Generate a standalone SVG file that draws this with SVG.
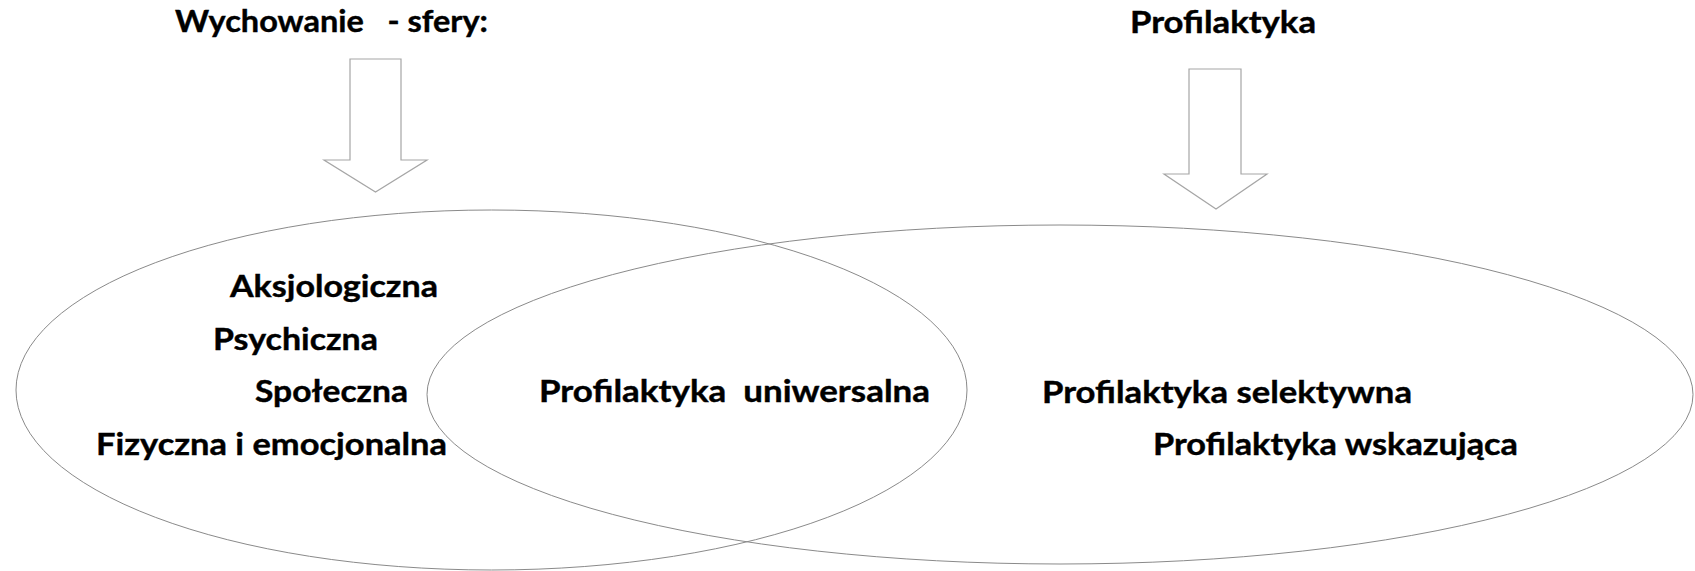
<svg xmlns="http://www.w3.org/2000/svg" width="1695" height="571" viewBox="0 0 1695 571">
<style>
.bg{fill:#ffffff}
.arrow{fill:#ffffff;stroke:#a6a6a6;stroke-width:1.2}
.ell{fill:none;stroke:#8a8a8a;stroke-width:1}
.t{font-family:Lato,"Open Sans","Liberation Sans",sans-serif;font-weight:700;font-size:30px;fill:#000000;stroke:#000000;stroke-width:0.4}
</style>
<rect class="bg" x="0" y="0" width="1695" height="571"/>
<g id="connectors">
<polygon id="arrow-left" class="arrow" points="350,59 401,59 401,160 427,160 375.5,192 324,160 350,160"/>
<polygon id="arrow-right" class="arrow" points="1189,69 1241,69 1241,174 1267,174 1216,209 1164,174 1189,174"/>
</g>
<g id="ellipse-wychowanie">
<ellipse class="ell" cx="491.5" cy="390" rx="475.5" ry="180"/>
</g>
<g id="ellipse-profilaktyka">
<ellipse class="ell" cx="1060" cy="394.5" rx="633" ry="169.5"/>
</g>
<g id="title-wychowanie">
<text class="t" x="175" y="32" textLength="313" lengthAdjust="spacingAndGlyphs" xml:space="preserve">Wychowanie   - sfery:</text>
</g>
<g id="title-profilaktyka">
<text class="t" x="1130" y="33" textLength="186" lengthAdjust="spacingAndGlyphs">Profilaktyka</text>
</g>
<g id="sfery">
<text class="t" x="230" y="297" textLength="208" lengthAdjust="spacingAndGlyphs">Aksjologiczna</text>
<text class="t" x="213" y="350" textLength="165" lengthAdjust="spacingAndGlyphs">Psychiczna</text>
<text class="t" x="255" y="402" textLength="153" lengthAdjust="spacingAndGlyphs">Społeczna</text>
<text class="t" x="96" y="455" textLength="351" lengthAdjust="spacingAndGlyphs">Fizyczna i emocjonalna</text>
</g>
<g id="profilaktyka-uniwersalna">
<text class="t" x="539" y="402" textLength="391" lengthAdjust="spacingAndGlyphs" xml:space="preserve">Profilaktyka  uniwersalna</text>
</g>
<g id="profilaktyka-selektywna">
<text class="t" x="1042" y="403" textLength="370" lengthAdjust="spacingAndGlyphs">Profilaktyka selektywna</text>
</g>
<g id="profilaktyka-wskazujaca">
<text class="t" x="1153" y="455" textLength="365" lengthAdjust="spacingAndGlyphs">Profilaktyka wskazująca</text>
</g>
</svg>
